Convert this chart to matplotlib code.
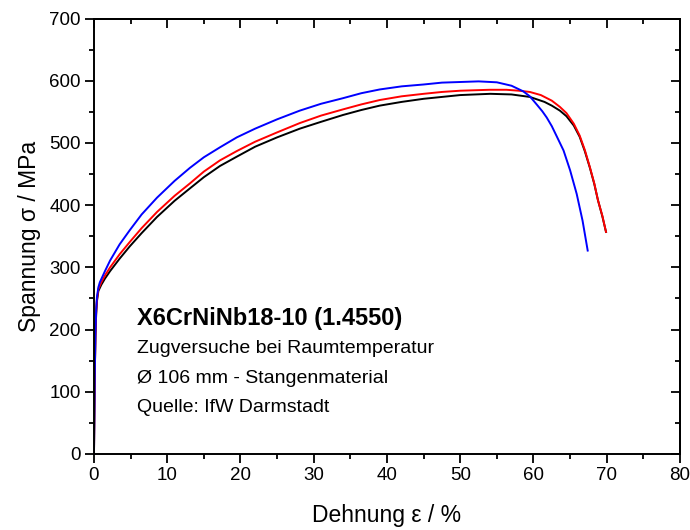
import matplotlib
matplotlib.use('Agg')
import matplotlib.pyplot as plt
from matplotlib.ticker import MultipleLocator

plt.rcParams['font.family'] = ['Liberation Sans', 'DejaVu Sans']

# Spannung-Dehnung, drei Zugproben (Dehnung in %, Spannung in MPa)
eps_black = [0, 0.1, 0.2, 0.3, 0.4, 0.6, 1.0, 1.5, 2.2, 3.5, 4.9, 6.5, 8.6, 11, 13.1,
             15, 17.2, 19.5, 22, 25, 28.1, 31, 34, 36.5, 39, 42, 45, 47.5, 50, 54.1,
             57, 59.5, 61.5, 62.5, 63.6, 64.5, 65.5, 66.3, 67, 67.7, 68.3, 68.8,
             69.4, 69.9]
sig_black = [0, 120, 190, 225, 245, 262, 272, 282, 294, 314, 334, 355, 381, 407, 427,
             445, 463, 478, 494, 509, 523, 534, 545, 553, 560, 566, 571, 574, 577, 579,
             578, 574, 566, 560, 552, 543, 528, 510, 487, 460, 434, 408,
             382, 357]

eps_red = [0, 0.1, 0.2, 0.3, 0.4, 0.6, 1.0, 1.5, 2.2, 3.5, 4.9, 6.5, 8.6, 11, 13.1,
           15, 17.2, 19.5, 22, 25, 28.1, 31, 34, 36.5, 39, 42, 45, 47.5, 50, 54,
           56.3, 58, 59.5, 61, 62.5, 63.6, 64.5, 65.5, 66.3, 67, 67.7, 68.3, 68.8,
           69.4, 69.9]
sig_red = [0, 120, 190, 228, 248, 265, 276, 287, 300, 321, 341, 363, 389, 415, 435,
           454, 472, 487, 502, 517, 532, 544, 554, 562, 569, 575, 579, 582, 584, 585.5,
           585.5, 584, 582, 577, 568, 558, 548, 531, 512, 489, 461, 435, 408,
           383, 357]

eps_blue = [0, 0.1, 0.2, 0.3, 0.4, 0.6, 0.8, 1.5, 2.2, 3.5, 4.9, 6.5, 8.6, 11, 13.1,
            15, 17.2, 19.5, 22, 25, 28.1, 31, 34, 36.5, 39, 42, 45, 47.5, 50, 52.5,
            55, 57, 58.6, 59.5, 60.5, 61.2, 61.8, 62.5, 63.2, 64.1, 65, 65.9, 66.7,
            67.4]
sig_blue = [0, 120, 195, 232, 252, 268, 276, 294, 311, 337, 360, 385, 412, 439, 460,
            477, 493, 509, 523, 538, 552, 563, 572, 580, 586, 591, 594, 597, 598, 599,
            597.5, 592, 583, 575, 561, 551, 541, 527, 510, 488, 456, 418, 375,
            327]

info_lines = ['Zugversuche bei Raumtemperatur',
              'Ø 106 mm - Stangenmaterial',
              'Quelle: IfW Darmstadt']

fig = plt.figure(figsize=(6.9, 5.3), dpi=100)
ax = fig.add_axes([0.1362, 0.1434, 0.8493, 0.8216])

ax.plot(eps_black, sig_black, color='black', lw=1.4)
ax.plot(eps_red, sig_red, color='#ff0000', lw=1.4)
ax.plot(eps_blue, sig_blue, color='#0000ff', lw=1.4)

ax.set_xlim(0, 80)
ax.set_ylim(0, 700)
ax.xaxis.set_major_locator(MultipleLocator(10))
ax.xaxis.set_minor_locator(MultipleLocator(5))
ax.yaxis.set_major_locator(MultipleLocator(100))
ax.yaxis.set_minor_locator(MultipleLocator(50))

for s in ax.spines.values():
    s.set_linewidth(1.4)

ax.tick_params(which='major', direction='out', length=6.5, width=1.3, labelsize=13.5, pad=3)
ax.tick_params(which='minor', direction='out', length=3.5, width=1.3)

# Spiegelachsen oben/rechts mit Ticks nach innen
top = ax.secondary_xaxis('top')
top.xaxis.set_major_locator(MultipleLocator(10))
top.xaxis.set_minor_locator(MultipleLocator(5))
top.tick_params(which='major', direction='in', length=6.5, width=1.3, labeltop=False)
top.tick_params(which='minor', direction='in', length=3.5, width=1.3)
right = ax.secondary_yaxis('right')
right.yaxis.set_major_locator(MultipleLocator(100))
right.yaxis.set_minor_locator(MultipleLocator(50))
right.tick_params(which='major', direction='in', length=6.5, width=1.3, labelright=False)
right.tick_params(which='minor', direction='in', length=3.5, width=1.3)
for sec in (top, right):
    for s in sec.spines.values():
        s.set_linewidth(1.4)

ax.set_xlabel('Dehnung ε / %', fontsize=16.5, labelpad=14)
ax.set_ylabel('Spannung σ / MPa', fontsize=16.5, labelpad=6)

ax.text(0.0734, 0.312, 'X6CrNiNb18-10 (1.4550)', transform=ax.transAxes,
        fontsize=17, fontweight='bold', va='center', ha='left')
for i, line in enumerate(info_lines):
    ax.text(0.0734, 0.243 - i * 0.0685, line, transform=ax.transAxes,
            fontsize=14, va='center', ha='left')

fig.savefig('out.png', dpi=100)
